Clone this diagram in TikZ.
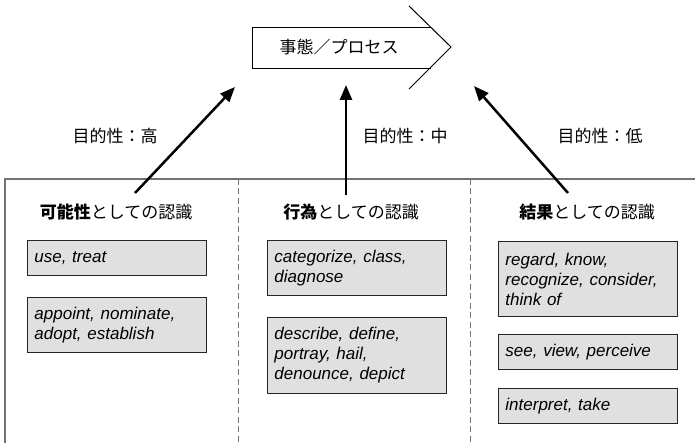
\documentclass[tikz,border=0pt]{standalone}
\usepackage{fontspec}
\setmainfont{Liberation Sans}
\newfontfamily\jp{Noto Sans CJK JP}
\usetikzlibrary{arrows.meta}

\begin{document}
\begin{tikzpicture}[
    x=1pt, y=-1pt,
    jlabel/.style={font=\jp\fontsize{17}{20}\selectfont, inner sep=0pt},
    verb/.style={draw=black!85, line width=0.9pt, fill=black!12,
                 anchor=north west, minimum width=179pt, text width=165pt,
                 inner xsep=7pt, align=left,
                 font=\itshape\fontsize{17}{20}\selectfont},
    frame/.style={black!55, line width=1.2pt},
    divider/.style={black!55, line width=0.9pt, dash pattern=on 6pt off 3.5pt},
    purp/.style={-{Triangle[length=15pt,width=12pt]}, line width=2.5pt},
  ]
  \useasboundingbox (0,0) rectangle (695,443);

  % ── Process arrow ──
  \draw[line width=1pt] (431,28) -- (252,28) -- (252,69) -- (431,69);
  \draw[line width=1pt] (409,6) -- (451,47) -- (409,89);
  \node[jlabel] (proc) at (339,47) {事態／プロセス};

  % ── Frame ──
  \draw[frame] (5,443) -- (5,179) -- (695,179);
  \draw[divider] (238,179) -- (238,443);
  \draw[divider] (470,179) -- (470,443);

  % ── Column headers ──
  \node[jlabel] (hpos) at (116,212) {\textbf{可能性}としての認識};
  \node[jlabel] (hact) at (351,212) {\textbf{行為}としての認識};
  \node[jlabel] (hres) at (587,212) {\textbf{結果}としての認識};

  % ── Purpose arrows ──
  \coordinate (spos) at (135,193);
  \coordinate (sact) at (346,195);
  \coordinate (sres) at (568,193);
  \coordinate (tpos) at (235,87);
  \coordinate (tact) at (346,85);
  \coordinate (tres) at (474,86);

  \draw[purp] (spos) -- (tpos);
  \draw[purp] (sact) -- (tact);
  \draw[purp] (sres) -- (tres);

  \node[jlabel] (ppos) at (115,136) {目的性：高};
  \node[jlabel] (pact) at (405,136) {目的性：中};
  \node[jlabel] (pres) at (600,136) {目的性：低};

  % ── Verb boxes ──
  \node[verb, minimum height=35pt] (vpos1) at (27,240) {use, treat};
  \node[verb, minimum height=55pt] (vpos2) at (27,297) {appoint, nominate,\\adopt, establish};

  \node[verb, minimum height=55pt] (vact1) at (267,240) {categorize, class,\\diagnose};
  \node[verb, minimum height=76pt] (vact2) at (267,317) {describe, define,\\portray, hail,\\denounce, depict};

  \node[verb, minimum height=75pt] (vres1) at (498,241) {regard, know,\\recognize, consider,\\think of};
  \node[verb, minimum height=35pt] (vres2) at (498,334) {see, view, perceive};
  \node[verb, minimum height=35pt] (vres3) at (498,388) {interpret, take};
\end{tikzpicture}
\end{document}
